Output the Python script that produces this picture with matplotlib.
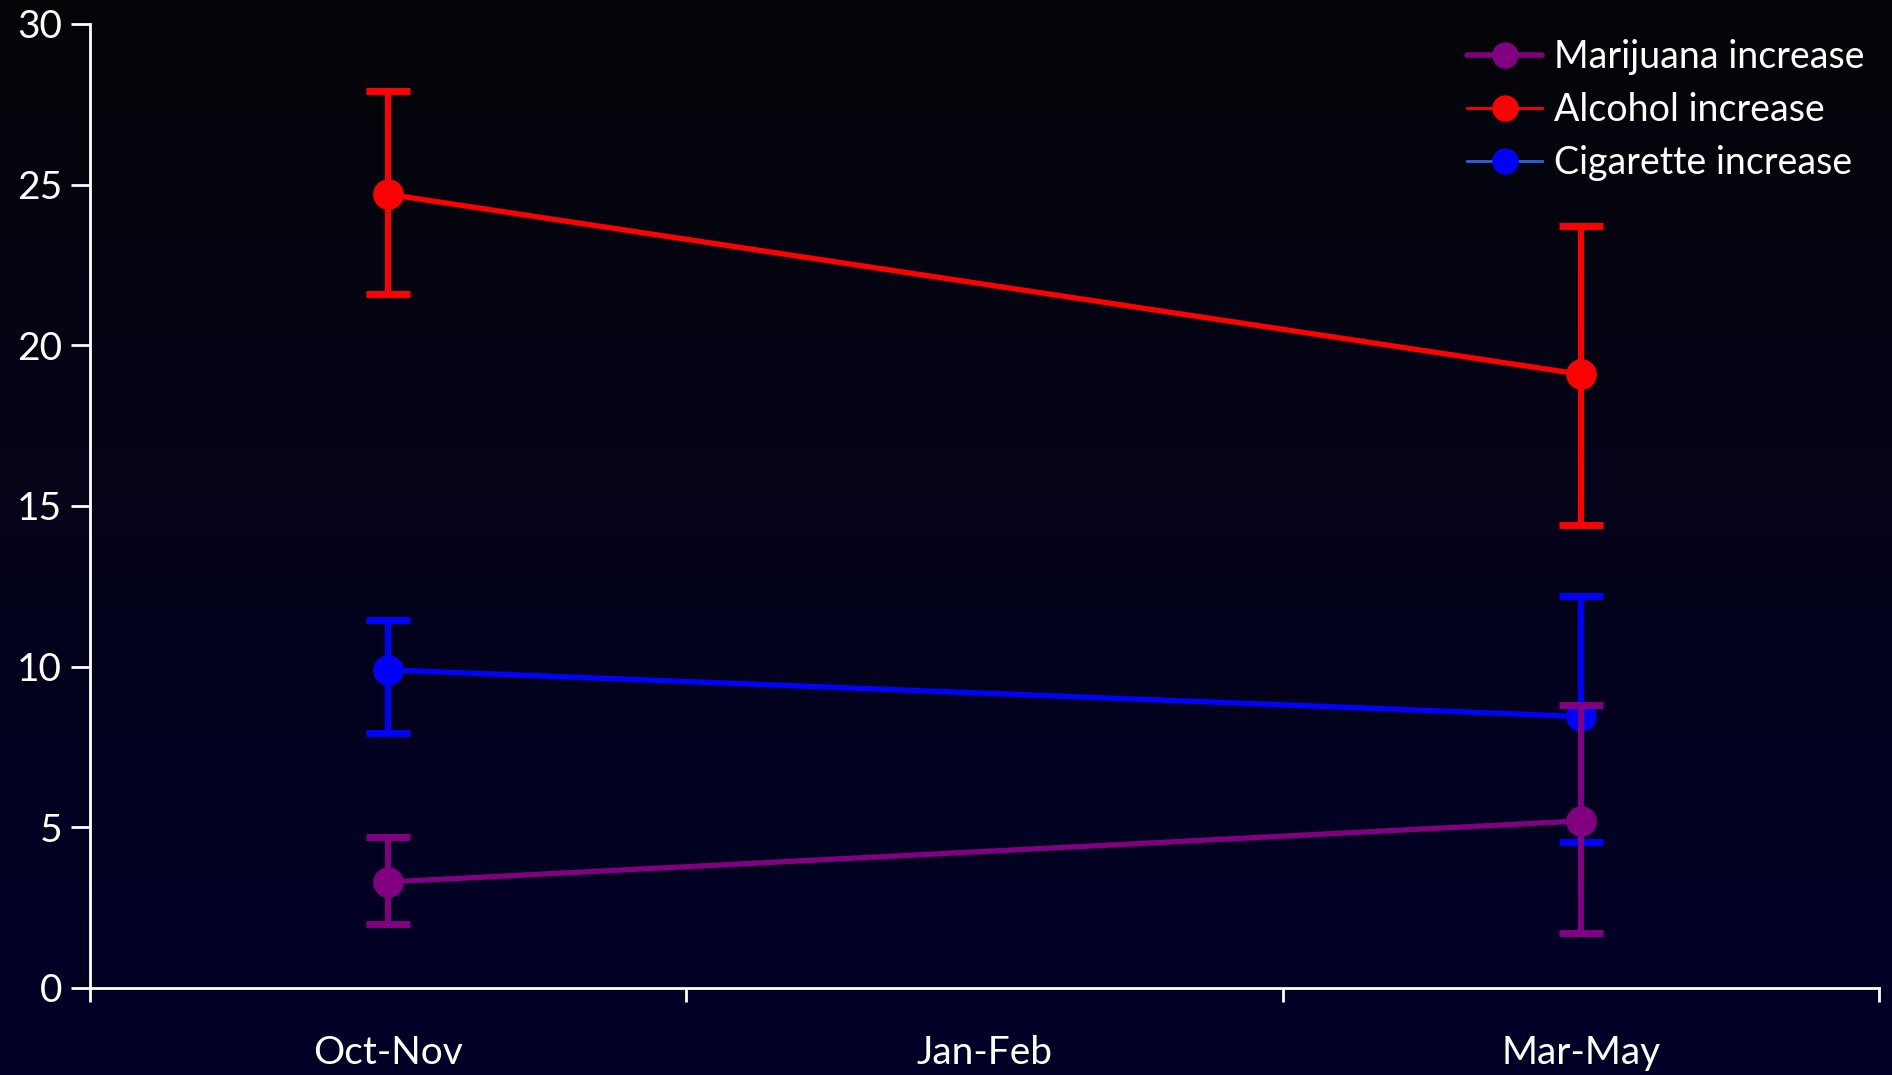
import numpy as np
import matplotlib
matplotlib.use('Agg')
from matplotlib import pyplot as plt
from matplotlib.colors import LinearSegmentedColormap
from matplotlib.lines import Line2D

periods = ['Oct-Nov', 'Jan-Feb', 'Mar-May']

# values per period; the Jan-Feb survey wave has no data
marijuana = [3.3, 5.2]
marijuana_lo = [2.0, 1.7]
marijuana_hi = [4.7, 8.8]

alcohol = [24.7, 19.1]
alcohol_lo = [21.6, 14.4]
alcohol_hi = [27.9, 23.7]

cigarette = [9.9, 8.45]
cigarette_lo = [7.95, 4.55]
cigarette_hi = [11.45, 12.2]

measured = [0, 2]  # indices into periods

PURPLE = '#800080'
RED = '#ff0000'
BLUE = '#0000ff'
FG = 'white'

plt.rcParams['font.family'] = ['Lato', 'DejaVu Sans']

fig = plt.figure(figsize=(18.92, 10.75), dpi=100)

# dark vertical gradient behind everything
bg = fig.add_axes([0, 0, 1, 1], zorder=-10)
grad = np.linspace(0, 1, 256).reshape(-1, 1)
cmap = LinearSegmentedColormap.from_list('bg', ['#050508', '#04031a', '#000028'])
bg.imshow(grad, aspect='auto', cmap=cmap, extent=[0, 1, 0, 1])
bg.axis('off')

ax = fig.add_axes([90 / 1892, 1 - 988 / 1075, (1879 - 90) / 1892, (988 - 24) / 1075])
ax.patch.set_alpha(0)

x = np.array(measured) + 0.5

def draw(vals, lo, hi, color, z):
    vals = np.array(vals)
    err = [vals - np.array(lo), np.array(hi) - vals]
    ax.errorbar(x, vals, yerr=err, color=color, lw=3.8, elinewidth=4.3,
                capsize=16, capthick=5, marker='o', ms=21, zorder=z)

draw(alcohol, alcohol_lo, alcohol_hi, RED, 3)
draw(cigarette, cigarette_lo, cigarette_hi, BLUE, 4)
draw(marijuana, marijuana_lo, marijuana_hi, PURPLE, 5)

ax.set_xlim(0, 3)
ax.set_ylim(0, 30)
ax.set_yticks(range(0, 31, 5))
ax.set_xticks([0, 1, 2, 3])
ax.set_xticklabels([])
ax.set_xticks([0.5, 1.5, 2.5], minor=True)
ax.set_xticklabels(periods, minor=True)

for s in ['top', 'right']:
    ax.spines[s].set_visible(False)
for s in ['left', 'bottom']:
    ax.spines[s].set_color(FG)
    ax.spines[s].set_linewidth(2)

ax.tick_params(axis='y', colors=FG, labelsize=28, length=14, width=2, pad=6)
ax.tick_params(axis='x', which='major', colors=FG, length=10, width=2)
ax.tick_params(axis='x', which='minor', colors=FG, labelsize=28, length=0, pad=34)

handles = [
    Line2D([], [], color=PURPLE, lw=4, marker='o', ms=18, solid_capstyle='round'),
    Line2D([], [], color=RED, lw=2, marker='o', ms=18),
    Line2D([], [], color='#3060e0', lw=2, marker='o', ms=18, mfc=BLUE, mec=BLUE),
]
labels = ['Marijuana increase', 'Alcohol increase', 'Cigarette increase']
leg = ax.legend(handles, labels, loc='upper right', bbox_to_anchor=(1.0, 1.0),
                frameon=False, fontsize=27, handlelength=2.0, handletextpad=0.3,
                labelspacing=0.45, borderaxespad=0)
for t in leg.get_texts():
    t.set_color(FG)

fig.savefig('out.png', dpi=100)
